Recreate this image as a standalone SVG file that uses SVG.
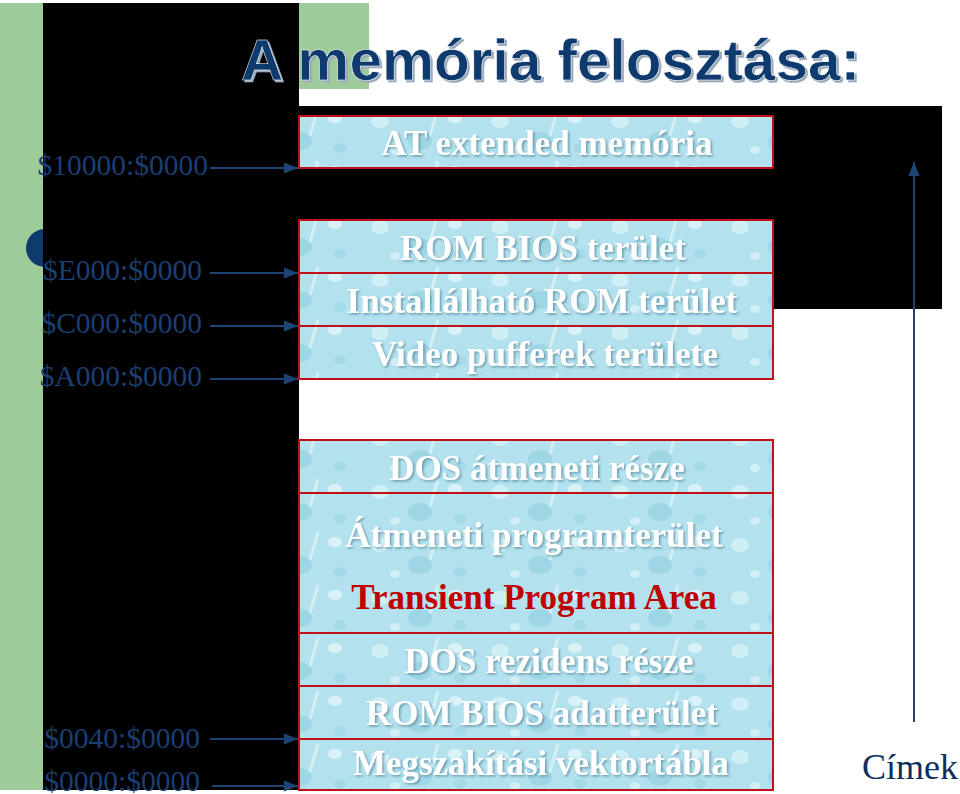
<svg xmlns="http://www.w3.org/2000/svg" width="960" height="794" viewBox="0 0 960 794">
<defs>
<pattern id="drops" width="120" height="53" patternUnits="userSpaceOnUse">
<rect width="120" height="53" fill="#b3e2ee"/>
<ellipse cx="20" cy="15" rx="9" ry="7" fill="#d6f2f8" opacity="0.8"/>
<ellipse cx="60" cy="35" rx="12" ry="9" fill="#8fcfe0" opacity="0.6"/>
<ellipse cx="95" cy="12" rx="7" ry="5" fill="#e2f6fa" opacity="0.8"/>
<ellipse cx="100" cy="42" rx="6" ry="5" fill="#9ad4e3" opacity="0.6"/>
<ellipse cx="35" cy="44" rx="5" ry="4" fill="#e2f6fa" opacity="0.7"/>
<path d="M78 2 L70 30" stroke="#e8f8fb" stroke-width="3" opacity="0.6"/>
</pattern>
<marker id="arr" viewBox="0 0 10 10" refX="10" refY="5" markerWidth="7" markerHeight="7" orient="auto"><path d="M0 1 L10 5 L0 9 Z" fill="#1c4476"/></marker>
<filter id="sh"><feDropShadow dx="1.5" dy="1.5" stdDeviation="0.8" flood-color="#4a7a90" flood-opacity="0.7"/></filter>
</defs>
<style>
.box{fill:url(#drops);stroke:#c0101a;stroke-width:2}
.bt{font-family:"Liberation Serif",serif;font-weight:bold;font-size:35px;fill:#ffffff;text-anchor:middle;filter:url(#sh)}
.addr{font-family:"Liberation Serif",serif;font-size:29.5px;fill:#1a3f73;text-anchor:end}
.conn{stroke:#1c4476;stroke-width:2;fill:none;marker-end:url(#arr)}
</style>
<rect width="960" height="794" fill="#fff"/>
<rect x="0" y="3" width="43" height="787" fill="#9dcb9a"/>
<circle cx="45" cy="248" r="19" fill="#0e3a6e"/>
<rect x="43" y="3" width="256" height="787" fill="#000"/>
<rect x="299" y="3" width="70" height="86" fill="#9dcb9a"/>
<rect x="299" y="106" width="643" height="203" fill="#000"/>
<text x="241" y="80" textLength="619" lengthAdjust="spacingAndGlyphs" font-family="Liberation Sans,sans-serif" font-weight="bold" font-size="58" fill="#0e3a6e" stroke="#fff" stroke-width="0.5" style="filter:drop-shadow(2px 2px 0 #9ab)">A memória felosztása:</text>
<g id="n1"><rect class="box" x="299" y="116" width="474" height="52"/><text class="bt" x="547" y="155">AT extended memória</text></g>
<g id="n2"><rect class="box" x="299" y="220" width="474" height="53"/><text class="bt" x="543" y="260">ROM BIOS terület</text></g>
<g id="n3"><rect class="box" x="299" y="273" width="474" height="53"/><text class="bt" x="542" y="313">Installálható ROM terület</text></g>
<g id="n4"><rect class="box" x="299" y="326" width="474" height="53"/><text class="bt" x="545" y="366">Video pufferek területe</text></g>
<g id="n5"><rect class="box" x="299" y="440" width="474" height="53"/><text class="bt" x="537" y="480">DOS átmeneti része</text></g>
<g id="n6"><rect class="box" x="299" y="493" width="474" height="140"/><text class="bt" x="534" y="547">Átmeneti programterület</text><text class="bt" x="534" y="609" style="fill:#c00000;filter:none">Transient Program Area</text></g>
<g id="n7"><rect class="box" x="299" y="633" width="474" height="53"/><text class="bt" x="549" y="673">DOS rezidens része</text></g>
<g id="n8"><rect class="box" x="299" y="686" width="474" height="53"/><text class="bt" x="542" y="725">ROM BIOS adatterület</text></g>
<g id="n9"><rect class="box" x="299" y="739" width="474" height="51"/><text class="bt" x="541" y="775">Megszakítási vektortábla</text></g>
<g id="labels">
<text class="addr" x="208" y="175">$10000:$0000</text>
<text class="addr" x="202" y="280">$E000:$0000</text>
<text class="addr" x="202" y="333">$C000:$0000</text>
<text class="addr" x="202" y="386">$A000:$0000</text>
<text class="addr" x="200" y="748">$0040:$0000</text>
<text class="addr" x="200" y="791">$0000:$0000</text>
<text x="862" y="779" font-family="Liberation Serif,serif" font-size="36" fill="#0e2f5e">Címek</text>
</g>
<g id="connectors">
<line class="conn" x1="210" y1="168" x2="298" y2="168"/>
<line class="conn" x1="210" y1="273" x2="298" y2="273"/>
<line class="conn" x1="210" y1="326" x2="298" y2="326"/>
<line class="conn" x1="210" y1="379" x2="298" y2="379"/>
<line class="conn" x1="210" y1="739" x2="298" y2="739"/>
<line class="conn" x1="212" y1="786" x2="298" y2="786"/>
<line class="conn" x1="914" y1="722" x2="914" y2="162"/>
</g>
</svg>
